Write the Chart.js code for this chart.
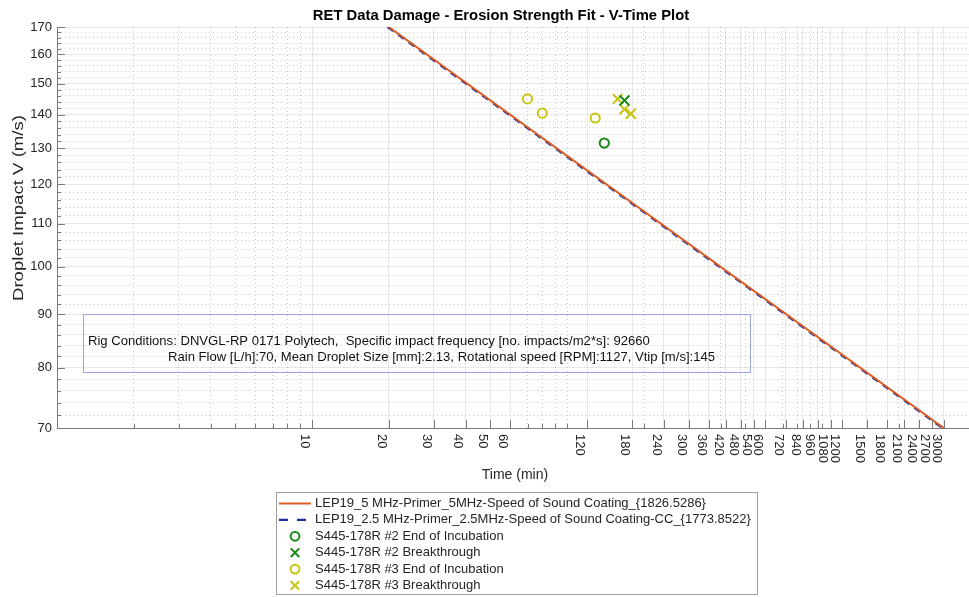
<!DOCTYPE html>
<html>
<head>
<meta charset="utf-8">
<title>RET Data Damage - Erosion Strength Fit - V-Time Plot</title>
<script src="https://cdn.jsdelivr.net/npm/chart.js@4.4.1/dist/chart.umd.min.js"></script>
<style>
  html, body { margin: 0; padding: 0; background: #ffffff; }
  #wrap { width: 969px; height: 597px; }
</style>
</head>
<body>
<div id="wrap"><canvas id="chart" width="969" height="597"></canvas></div>
<script>
// ---- Fit curves: time to damage (min) against droplet impact velocity (m/s)
const fit5Time = [20, 3000];
const fit5Vel = [170, 70];
const fit25Time = [19.8, 2970];
const fit25Vel = [170, 70];

// ---- Test specimens
const s2EndTime = [140];
const s2EndVel = [131.5];
const s2BreakTime = [168];
const s2BreakVel = [144.5];
const s3EndTime = [70, 80, 129];
const s3EndVel = [145, 140.5, 139];
const s3BreakTime = [158, 168, 178];
const s3BreakVel = [145, 141.7, 140.3];

// ---- Series names
const seriesNames = [
  'LEP19_5 MHz-Primer_5MHz-Speed of Sound Coating_{1826.5286}',
  'LEP19_2.5 MHz-Primer_2.5MHz-Speed of Sound Coating-CC_{1773.8522}',
  'S445-178R #2 End of Incubation',
  'S445-178R #2 Breakthrough',
  'S445-178R #3 End of Incubation',
  'S445-178R #3 Breakthrough'
];

// ---- Axis ticks
const xTickValues = [10, 20, 30, 40, 50, 60, 120, 180, 240, 300, 360, 420, 480, 540, 600, 720, 840, 960, 1080, 1200, 1500, 1800, 2100, 2400, 2700, 3000];
const xMinorValues = [2, 3, 4, 5, 6, 7, 8, 9, 70, 80, 90, 100, 200, 400, 500, 700, 800, 900, 1000, 2000];
const yTickValues = [70, 80, 90, 100, 110, 120, 130, 140, 150, 160, 170];
const yMinorStep = 2;

const titleText = 'RET Data Damage - Erosion Strength Fit - V-Time Plot';
const xTitle = 'Time (min)';
const yTitle = 'Droplet Impact V (m/s)';
const rigLines = [
  'Rig Conditions: DNVGL-RP 0171 Polytech,  Specific impact frequency [no. impacts/m2*s]: 92660',
  'Rain Flow [L/h]:70, Mean Droplet Size [mm]:2.13, Rotational speed [RPM]:1127, Vtip [m/s]:145'
];

// ---- Style
const FONT = '"Liberation Sans", Arial, Helvetica, sans-serif';
const TEXT = '#262626';
const AXIS = '#7a7a7a';
const GRID_MAJOR = 'rgba(0,0,0,0.09)';
const GRID_MINOR = 'rgba(0,0,0,0.20)';
const ORANGE = '#dd5a20';
const BLUE = '#1e2ea0';
const GREEN = '#168a16';
const YELLOW = '#c9c414';

const zip = (xs, ys) => xs.map((x, i) => ({ x: x, y: ys[i] }));

const yMinorValues = [];
for (let v = yTickValues[0]; v <= yTickValues[yTickValues.length - 1]; v += yMinorStep) {
  if (!yTickValues.includes(v)) yMinorValues.push(v);
}
const xAll = xTickValues.concat(xMinorValues).sort((a, b) => a - b);
const yAll = yTickValues.concat(yMinorValues).sort((a, b) => a - b);

const isMajorX = v => xTickValues.includes(v);
const isMajorY = v => yTickValues.includes(v);

const datasets = [
  { label: seriesNames[0], data: zip(fit5Time, fit5Vel), showLine: true, borderColor: ORANGE,
    backgroundColor: ORANGE, borderWidth: 2, pointRadius: 0, tension: 0, legendKind: 'solid' },
  { label: seriesNames[1], data: zip(fit25Time, fit25Vel), showLine: true, borderColor: BLUE,
    backgroundColor: BLUE, borderWidth: 2.4, borderDash: [7, 6], pointRadius: 0, tension: 0, legendKind: 'dash' },
  { label: seriesNames[2], data: zip(s2EndTime, s2EndVel), showLine: false, pointStyle: 'circle',
    pointRadius: 4.6, borderColor: GREEN, backgroundColor: 'rgba(0,0,0,0)', pointBorderWidth: 2, legendKind: 'circle' },
  { label: seriesNames[3], data: zip(s2BreakTime, s2BreakVel), showLine: false, pointStyle: 'crossRot',
    pointRadius: 7, borderColor: GREEN, backgroundColor: GREEN, pointBorderWidth: 2, legendKind: 'cross' },
  { label: seriesNames[4], data: zip(s3EndTime, s3EndVel), showLine: false, pointStyle: 'circle',
    pointRadius: 4.6, borderColor: YELLOW, backgroundColor: 'rgba(0,0,0,0)', pointBorderWidth: 2, legendKind: 'circle' },
  { label: seriesNames[5], data: zip(s3BreakTime, s3BreakVel), showLine: false, pointStyle: 'crossRot',
    pointRadius: 7, borderColor: YELLOW, backgroundColor: YELLOW, pointBorderWidth: 2, legendKind: 'cross' }
];

// Marker glyphs used in the legend box
function drawMarker(ctx, kind, color, cx, cy) {
  ctx.save();
  ctx.strokeStyle = color;
  ctx.lineWidth = 2;
  ctx.beginPath();
  if (kind === 'circle') {
    ctx.arc(cx, cy, 4.4, 0, Math.PI * 2);
  } else {
    const h = 4.3;
    ctx.moveTo(cx - h, cy - h); ctx.lineTo(cx + h, cy + h);
    ctx.moveTo(cx - h, cy + h); ctx.lineTo(cx + h, cy - h);
  }
  ctx.stroke();
  ctx.restore();
}

const decorations = {
  id: 'decorations',
  beforeDraw(chart) {
    const ctx = chart.ctx;
    ctx.save();
    ctx.fillStyle = '#ffffff';
    ctx.fillRect(0, 0, chart.width, chart.height);
    ctx.restore();
  },
  afterDraw(chart) {
    const ctx = chart.ctx;
    const area = chart.chartArea;
    const xs = chart.scales.x;
    const ys = chart.scales.y;

    // axis lines
    ctx.save();
    ctx.strokeStyle = AXIS;
    ctx.lineWidth = 1;
    ctx.beginPath();
    ctx.moveTo(area.left + 0.5, area.top);
    ctx.lineTo(area.left + 0.5, area.bottom + 0.5);
    ctx.lineTo(area.right, area.bottom + 0.5);
    ctx.stroke();

    // inward tick marks
    ctx.beginPath();
    xs.ticks.forEach(t => {
      const px = Math.round(xs.getPixelForValue(t.value)) + 0.5;
      const len = isMajorX(t.value) ? 8 : 4;
      ctx.moveTo(px, area.bottom);
      ctx.lineTo(px, area.bottom - len);
    });
    ys.ticks.forEach(t => {
      const py = Math.round(ys.getPixelForValue(t.value)) + 0.5;
      const len = isMajorY(t.value) ? 8 : 4;
      ctx.moveTo(area.left, py);
      ctx.lineTo(area.left + len, py);
    });
    ctx.stroke();
    ctx.restore();

    // x tick labels, turned a quarter clockwise
    ctx.save();
    ctx.fillStyle = TEXT;
    ctx.font = '13px ' + FONT;
    ctx.textAlign = 'left';
    ctx.textBaseline = 'top';
    xTickValues.forEach(v => {
      const px = xs.getPixelForValue(v);
      ctx.save();
      ctx.translate(px - 1, area.bottom + 6);
      ctx.rotate(Math.PI / 2);
      ctx.fillText(String(v), 0, 0);
      ctx.restore();
    });
    ctx.restore();

    // axis titles
    ctx.save();
    ctx.fillStyle = TEXT;
    ctx.font = '14px ' + FONT;
    ctx.textAlign = 'center';
    ctx.textBaseline = 'middle';
    ctx.fillText(xTitle, (area.left + area.right) / 2 + 2, 475);
    ctx.translate(19, 208);
    ctx.rotate(-Math.PI / 2);
    ctx.scale(1.24, 1);
    ctx.font = '15px ' + FONT;
    ctx.fillText(yTitle, 0, 0);
    ctx.restore();

    // chart title
    ctx.save();
    ctx.fillStyle = '#000000';
    ctx.font = 'bold 14.8px ' + FONT;
    ctx.textAlign = 'center';
    ctx.textBaseline = 'middle';
    ctx.fillText(titleText, 501, 16);
    ctx.restore();

    // rig-conditions text box
    ctx.save();
    ctx.strokeStyle = '#9aa6e0';
    ctx.lineWidth = 1;
    ctx.strokeRect(83.5, 314.5, 667, 58);
    ctx.fillStyle = '#111111';
    ctx.font = '13.1px ' + FONT;
    ctx.textAlign = 'left';
    ctx.textBaseline = 'middle';
    ctx.fillText(rigLines[0], 88, 341);
    ctx.fillText(rigLines[1], 168, 357);
    ctx.restore();

    // legend box
    const lg = { left: 276, top: 492, right: 757, bottom: 594 };
    ctx.save();
    ctx.fillStyle = '#ffffff';
    ctx.fillRect(lg.left, lg.top, lg.right - lg.left, lg.bottom - lg.top);
    ctx.strokeStyle = '#a0a0a0';
    ctx.lineWidth = 1;
    ctx.strokeRect(lg.left + 0.5, lg.top + 0.5, lg.right - lg.left, lg.bottom - lg.top);
    ctx.font = '13px ' + FONT;
    ctx.textAlign = 'left';
    ctx.textBaseline = 'middle';
    chart.data.datasets.forEach((ds, i) => {
      const cy = 503.5 + i * 16.4;
      if (ds.legendKind === 'solid' || ds.legendKind === 'dash') {
        ctx.save();
        ctx.strokeStyle = ds.borderColor;
        ctx.lineWidth = ds.borderWidth;
        if (ds.legendKind === 'dash') ctx.setLineDash([9, 9]);
        ctx.beginPath();
        ctx.moveTo(279, cy);
        ctx.lineTo(311, cy);
        ctx.stroke();
        ctx.restore();
      } else {
        drawMarker(ctx, ds.legendKind, ds.borderColor, 295, cy);
      }
      ctx.fillStyle = TEXT;
      ctx.fillText(ds.label, 315, cy);
    });
    ctx.restore();
  }
};

new Chart(document.getElementById('chart'), {
  type: 'scatter',
  data: { datasets: datasets },
  options: {
    responsive: false,
    animation: false,
    events: [],
    layout: { autoPadding: false, padding: { top: 27, right: 0, bottom: 128, left: 0 } },
    plugins: {
      legend: { display: false },
      title: { display: false },
      tooltip: { enabled: false }
    },
    scales: {
      x: {
        type: 'logarithmic',
        position: 'bottom',
        min: 1,
        max: 3770,
        afterBuildTicks: s => { s.ticks = xAll.map(v => ({ value: v })); },
        afterFit: s => { s.height = 41; },
        ticks: { display: false, autoSkip: false },
        grid: {
          drawTicks: false,
          lineWidth: 1,
          color: c => (c.tick && isMajorX(c.tick.value)) ? GRID_MAJOR : GRID_MINOR
        },
        border: {
          display: false,
          dash: c => (c.tick && !isMajorX(c.tick.value)) ? [1, 3] : []
        }
      },
      y: {
        type: 'logarithmic',
        position: 'left',
        min: 70,
        max: 170,
        afterBuildTicks: s => { s.ticks = yAll.map(v => ({ value: v })); },
        afterFit: s => { s.width = 57; },
        ticks: {
          autoSkip: false,
          padding: 5,
          color: TEXT,
          font: { family: FONT, size: 13 },
          callback: v => isMajorY(v) ? String(v) : ''
        },
        grid: {
          drawTicks: false,
          lineWidth: 1,
          color: c => (c.tick && isMajorY(c.tick.value)) ? GRID_MAJOR : GRID_MINOR
        },
        border: {
          display: false,
          dash: c => (c.tick && !isMajorY(c.tick.value)) ? [1, 3] : []
        }
      }
    }
  },
  plugins: [decorations]
});
</script>
</body>
</html>
